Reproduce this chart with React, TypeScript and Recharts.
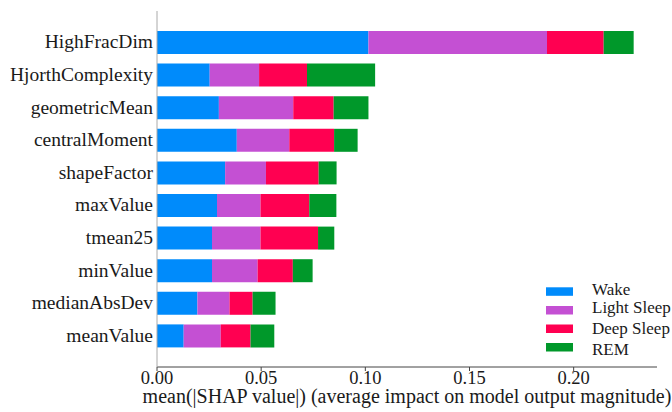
import React from "react";
import { BarChart, Bar, XAxis, YAxis, Legend } from "recharts";

const features = [
  "HighFracDim",
  "HjorthComplexity",
  "geometricMean",
  "centralMoment",
  "shapeFactor",
  "maxValue",
  "tmean25",
  "minValue",
  "medianAbsDev",
  "meanValue",
];
const wake = [0.1015, 0.0253, 0.0297, 0.0383, 0.0327, 0.0288, 0.0264, 0.0264, 0.0194, 0.0128];
const lightSleep = [0.0857, 0.0237, 0.0357, 0.0252, 0.0196, 0.0209, 0.0233, 0.0219, 0.0154, 0.0178];
const deepSleep = [0.0272, 0.023, 0.0194, 0.0215, 0.0253, 0.0234, 0.0276, 0.0169, 0.0111, 0.0143];
const rem = [0.0144, 0.0327, 0.0167, 0.0113, 0.0086, 0.013, 0.0078, 0.0095, 0.011, 0.0114];
const xTicks = [0, 0.05, 0.1, 0.15, 0.2];

const seriesNames = ["Wake", "Light Sleep", "Deep Sleep", "REM"];
const seriesKeys = ["wake", "light", "deep", "rem"];
const colors = ["#008bfb", "#c450d3", "#ff0051", "#00982a"];

const data = features.map((name, i) => ({
  name,
  wake: wake[i],
  light: lightSleep[i],
  deep: deepSleep[i],
  rem: rem[i],
}));

const FONT = "Liberation Serif";

const XTick = (props: any) => {
  const { x, y, payload } = props;
  return (
    <text x={x} y={y + 10.5} textAnchor="middle" fontSize={18.5} fill="#1a1a1a" fontFamily={FONT}>
      {Number(payload.value).toFixed(2)}
    </text>
  );
};

const YTick = (props: any) => {
  const { y, payload } = props;
  return (
    <text x={153} y={y + 6} textAnchor="end" fontSize={19.5} fill="#1a1a1a" fontFamily={FONT}>
      {payload.value}
    </text>
  );
};

const XLabel = (props: any) => {
  const vb = props.viewBox || { x: 157, width: 500 };
  return (
    <text x={vb.x + vb.width / 2} y={403} textAnchor="middle" fontSize={20} fill="#1a1a1a" fontFamily={FONT}>
      mean(|SHAP value|) (average impact on model output magnitude)
    </text>
  );
};

const swatchY = [287.3, 306, 324.5, 343];
const textY = [295.3, 312.8, 333.8, 354.5];

const LegendContent = () => (
  <svg width={672} height={412} style={{ position: "absolute", left: 0, top: 0 }}>
    {seriesNames.map((n, i) => (
      <g key={n}>
        <rect x={546} y={swatchY[i]} width={27} height={8.5} fill={colors[i]} />
        <text x={592} y={textY[i]} fontSize={17} fill="#1a1a1a" fontFamily={FONT}>
          {n}
        </text>
      </g>
    ))}
  </svg>
);

export default function App() {
  return (
    <div style={{ position: "absolute", left: 0, top: 0, background: "#fff" }}>
      <BarChart
        width={672}
        height={412}
        data={data}
        layout="vertical"
        margin={{ top: 11, right: 15, bottom: 0, left: 0 }}
        barSize={23}
      >
        <XAxis
          type="number"
          domain={[0, 0.24]}
          ticks={xTicks}
          allowDataOverflow
          height={45}
          tick={<XTick />}
          tickSize={4}
          axisLine={{ stroke: "#444" }}
          tickLine={{ stroke: "#444" }}
          label={<XLabel />}
        />
        <YAxis
          type="category"
          dataKey="name"
          width={157}
          padding={{ top: 15, bottom: 15 }}
          tick={<YTick />}
          tickLine={false}
          axisLine={{ stroke: "#aaa" }}
        />
        {seriesKeys.map((k, i) => (
          <Bar key={k} dataKey={k} name={seriesNames[i]} stackId="a" fill={colors[i]} isAnimationActive={false} />
        ))}
        <Legend content={<LegendContent />} wrapperStyle={{ position: "absolute", left: 0, top: 0, width: 0, height: 0 }} />
      </BarChart>
    </div>
  );
}
